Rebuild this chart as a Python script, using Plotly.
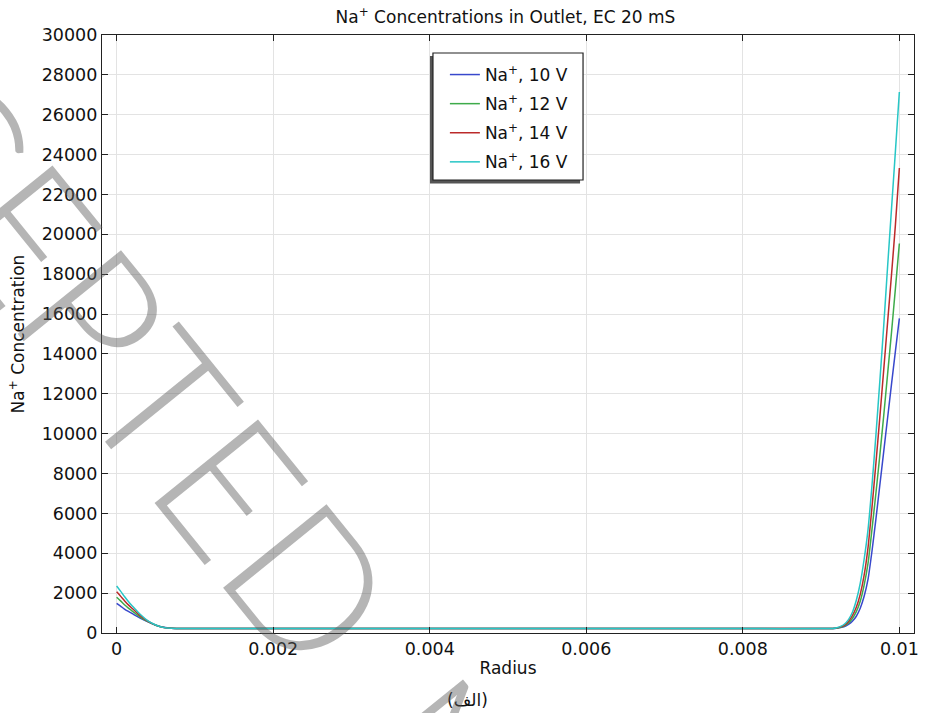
import plotly.graph_objects as go

# Radial positions (m)
radius = [0, 0.00005, 0.0001, 0.00015, 0.0002, 0.0003, 0.0004, 0.0005, 0.0006,
          0.0007, 0.0008, 0.001, 0.002, 0.003, 0.004, 0.005, 0.006, 0.007,
          0.008, 0.009, 0.00915, 0.0092, 0.00925, 0.0093, 0.00935, 0.0094,
          0.00945, 0.0095, 0.00955, 0.0096, 0.00965, 0.0097, 0.00975, 0.0098,
          0.00985, 0.0099, 0.00995, 0.01]

# Na+ concentration at the outlet for each applied voltage
na_10v = [1490, 1350, 1200, 1080, 970, 750, 560, 390, 285, 238, 226, 220, 220,
          220, 220, 220, 220, 220, 220, 220, 224, 240, 270, 325, 430, 590, 840,
          1240, 1840, 2700, 4100, 5700, 7400, 9100, 10800, 12500, 14150, 15780]
na_12v = [1790, 1610, 1420, 1250, 1100, 800, 570, 390, 282, 236, 225, 220, 220,
          220, 220, 220, 220, 220, 220, 220, 225, 246, 290, 365, 500, 730, 1070,
          1590, 2400, 3500, 5200, 7000, 8900, 10900, 13000, 15100, 17300, 19540]
na_14v = [2070, 1850, 1620, 1410, 1230, 870, 590, 395, 280, 235, 224, 220, 220,
          220, 220, 220, 220, 220, 220, 220, 226, 252, 305, 400, 580, 870, 1290,
          1940, 2900, 4300, 6300, 8500, 10800, 13200, 15600, 18000, 20500, 23330]
na_16v = [2360, 2100, 1830, 1580, 1360, 940, 610, 400, 278, 234, 223, 220, 220,
          220, 220, 220, 220, 220, 220, 220, 228, 260, 330, 450, 670, 1040, 1640,
          2490, 3700, 5200, 7400, 9900, 12600, 15400, 18400, 21300, 24200, 27140]

series_names = ["Na<sup>+</sup>, 10 V", "Na<sup>+</sup>, 12 V",
                "Na<sup>+</sup>, 14 V", "Na<sup>+</sup>, 16 V"]
series_values = [na_10v, na_12v, na_14v, na_16v]
series_colors = ["#3848cc", "#3eab4a", "#bb2a2a", "#27c6c6"]

x_ticks = [0, 0.002, 0.004, 0.006, 0.008, 0.01]
x_tick_text = ["0", "0.002", "0.004", "0.006", "0.008", "0.01"]
y_ticks = list(range(0, 30001, 2000))

FONT = "DejaVu Sans"
INK = "#111111"

fig = go.Figure()
for i, (name, vals, col) in enumerate(zip(series_names, series_values, series_colors)):
    fig.add_trace(go.Scatter(
        x=radius, y=vals, mode="lines", name=name, legendgroup=f"g{i}",
        line=dict(color=col, width=1.5, shape="spline", smoothing=0.6),
    ))

W, H = 930, 713
L, R, T, B = 102, 11, 35, 80
PW, PH = W - L - R, H - T - B


def px_x(p):
    return (p - L) / PW


def px_y(p):
    return 1 - (p - T) / PH


axis_common = dict(
    showline=True, linecolor="#222222", linewidth=1.2, mirror="ticks",
    ticks="inside", ticklen=6, tickwidth=1, tickcolor="#222222",
    showgrid=True, gridcolor="#e3e3e3", gridwidth=1, zeroline=False,
    tickfont=dict(family=FONT, size=17.5, color=INK),
)

fig.update_layout(
    width=W, height=H,
    margin=dict(l=L, r=R, t=T, b=B, pad=0),
    paper_bgcolor="white", plot_bgcolor="white",
    font=dict(family=FONT, color=INK, size=17),
    title=dict(
        text="Na<sup>+</sup> Concentrations in Outlet, EC 20 mS",
        x=px_x(508), xref="paper", xanchor="center",
        y=1 - 17 / H, yref="container", yanchor="middle",
        font=dict(family=FONT, size=17, color=INK),
    ),
    xaxis=dict(
        range=[-0.000187, 0.010187], tickvals=x_ticks, ticktext=x_tick_text,
        title=dict(text="Radius", standoff=4,
                   font=dict(family=FONT, size=17, color=INK)),
        **axis_common,
    ),
    yaxis=dict(
        range=[0, 30000], tickvals=y_ticks, tickformat="d",
        title=dict(text="Na<sup>+</sup> Concentration", standoff=12,
                   font=dict(family=FONT, size=17, color=INK)),
        **axis_common,
    ),
    legend=dict(
        x=px_x(447), y=px_y(57), xanchor="left", yanchor="top",
        bgcolor="rgba(0,0,0,0)", borderwidth=0,
        font=dict(family=FONT, size=17, color=INK),
        tracegroupgap=4,
    ),
    showlegend=True,
)

# legend frame with a drop shadow
fig.add_shape(
    type="rect", xref="paper", yref="paper",
    x0=px_x(432), x1=px_x(583), y0=px_y(183.5), y1=px_y(56),
    fillcolor="#555555", line=dict(width=0), layer="above",
)
fig.add_shape(
    type="rect", xref="paper", yref="paper",
    x0=px_x(435), x1=px_x(586), y0=px_y(180), y1=px_y(53),
    fillcolor="white", line=dict(color="#222222", width=1.2), layer="above",
)

# figure caption
fig.add_annotation(
    text="(الف)", xref="paper", yref="paper",
    x=px_x(470), y=px_y(700), xanchor="center", yanchor="middle",
    showarrow=False, font=dict(family=FONT, size=17, color=INK),
)

# diagonal watermark, one annotation per word
mark_font = dict(family="Lato", size=188, weight=300,
                 color="rgba(90,90,90,0.45)")
for word, cx, cy in [("ACCEPTED", 58, 268), ("MANUSCRIPT", 780, 1161)]:
    fig.add_annotation(
        text=word, xref="paper", yref="paper",
        x=px_x(cx), y=px_y(cy), xanchor="center", yanchor="middle",
        showarrow=False, textangle=51, font=mark_font,
    )

fig.write_html("out.html")
